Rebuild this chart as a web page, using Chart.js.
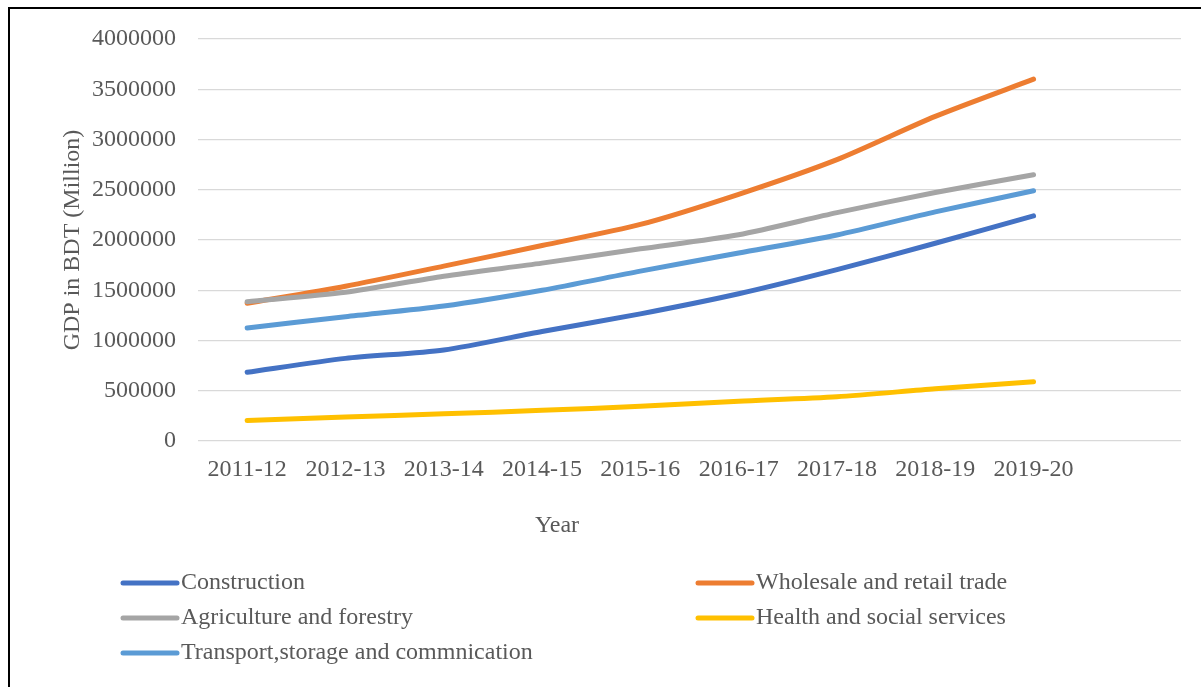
<!DOCTYPE html>
<html lang="en">
<head>
  <meta charset="UTF-8">
  <title>GDP by sector</title>
  <script src="https://cdn.jsdelivr.net/npm/chart.js"></script>
  <style>
    html, body { margin: 0; padding: 0; background: #fff; }
    canvas { display: block; }
  </style>
</head>
<body>
  <canvas id="gdpChart" width="1201" height="687"></canvas>

  <script>
    // data
    const years = ['2011-12', '2012-13', '2013-14', '2014-15', '2015-16', '2016-17', '2017-18', '2018-19', '2019-20', ''];
    const construction = [684000, 822000, 906000, 1090000, 1265000, 1465000, 1705000, 1968000, 2240000];
    const wholesale = [1370000, 1540000, 1740000, 1945000, 2155000, 2455000, 2800000, 3230000, 3600000];
    const agriculture = [1385000, 1480000, 1640000, 1770000, 1912000, 2052000, 2272000, 2472000, 2650000];
    const health = [203000, 238000, 270000, 305000, 345000, 395000, 440000, 520000, 590000];
    const transport = [1125000, 1237000, 1343000, 1500000, 1690000, 1870000, 2050000, 2280000, 2490000];

    const seriesNames = ['Construction', 'Wholesale and retail trade', 'Agriculture and forestry', 'Health and social services', 'Transport,storage and commnication'];
    const seriesData = [construction, wholesale, agriculture, health, transport];
    const cores = ['#4472C4', '#ED7D31', '#A5A5A5', '#FFC000', '#5B9BD5'];

    const xTitle = 'Year';
    const textColor = '#595959';
    const fonte = { family: '"Liberation Serif", "Times New Roman", serif', size: 24 };

    // frame line on top and left, like the original figure
    const framePlugin = {
      id: 'frame',
      beforeDraw(chart) {
        const ctx = chart.ctx;
        ctx.save();
        ctx.fillStyle = '#000';
        ctx.fillRect(8, 7, chart.width - 8, 2);
        ctx.fillRect(8, 7, 2, chart.height - 7);
        ctx.restore();
      }
    };

    // x title (sits left of centre in the original) + legend in two columns
    const legendPlugin = {
      id: 'gridLegend',
      afterDraw(chart) {
        const ctx = chart.ctx;
        ctx.save();
        ctx.font = fonte.size + 'px ' + fonte.family;
        ctx.fillStyle = textColor;
        ctx.textAlign = 'center';
        ctx.textBaseline = 'middle';
        ctx.fillText(xTitle, 557, 526);

        ctx.textAlign = 'left';
        const colX = [121, 696];
        const rowY = [583, 618, 653];
        chart.data.datasets.forEach(function(ds, i) {
          const x = colX[i % 2];
          const y = rowY[Math.floor(i / 2)];
          ctx.strokeStyle = ds.borderColor;
          ctx.lineWidth = 5;
          ctx.lineCap = 'round';
          ctx.beginPath();
          ctx.moveTo(x + 2, y);
          ctx.lineTo(x + 56, y);
          ctx.stroke();
          ctx.fillStyle = textColor;
          ctx.fillText(ds.label, x + 60, y);
        });
        ctx.restore();
      }
    };

    const datasets = seriesNames.map(function(nome, i) {
      return {
        label: nome,
        data: seriesData[i],
        borderColor: cores[i],
        backgroundColor: cores[i],
        borderWidth: 5,
        borderCapStyle: 'round',
        borderJoinStyle: 'round',
        pointRadius: 0,
        tension: 0.25,
        fill: false,
        order: -i
      };
    });

    const ctx = document.getElementById('gdpChart').getContext('2d');
    const chart = new Chart(ctx, {
      type: 'line',
      data: { labels: years, datasets: datasets },
      options: {
        responsive: false,
        animation: false,
        layout: { padding: { top: 39, right: 20, bottom: 146, left: 0 } },
        plugins: {
          legend: { display: false },
          tooltip: { enabled: false }
        },
        scales: {
          x: {
            offset: true,
            grid: { display: false, drawTicks: false },
            border: { display: false },
            ticks: { color: textColor, font: fonte, padding: 14, maxRotation: 0, autoSkip: false },
            afterFit(scale) { scale.height = 100; }
          },
          y: {
            min: 0,
            max: 4000000,
            grid: { color: '#D9D9D9', lineWidth: 1.3, drawTicks: false },
            border: { display: false },
            ticks: {
              stepSize: 500000,
              color: textColor,
              font: fonte,
              padding: 22,
              callback: function(v) { return String(v); }
            },
            title: { display: true, text: 'GDP in BDT (Million)', color: textColor, font: fonte, padding: { top: 58, bottom: 0 } },
            afterFit(scale) { scale.width = 198; }
          }
        }
      },
      plugins: [framePlugin, legendPlugin]
    });
  </script>
</body>
</html>
